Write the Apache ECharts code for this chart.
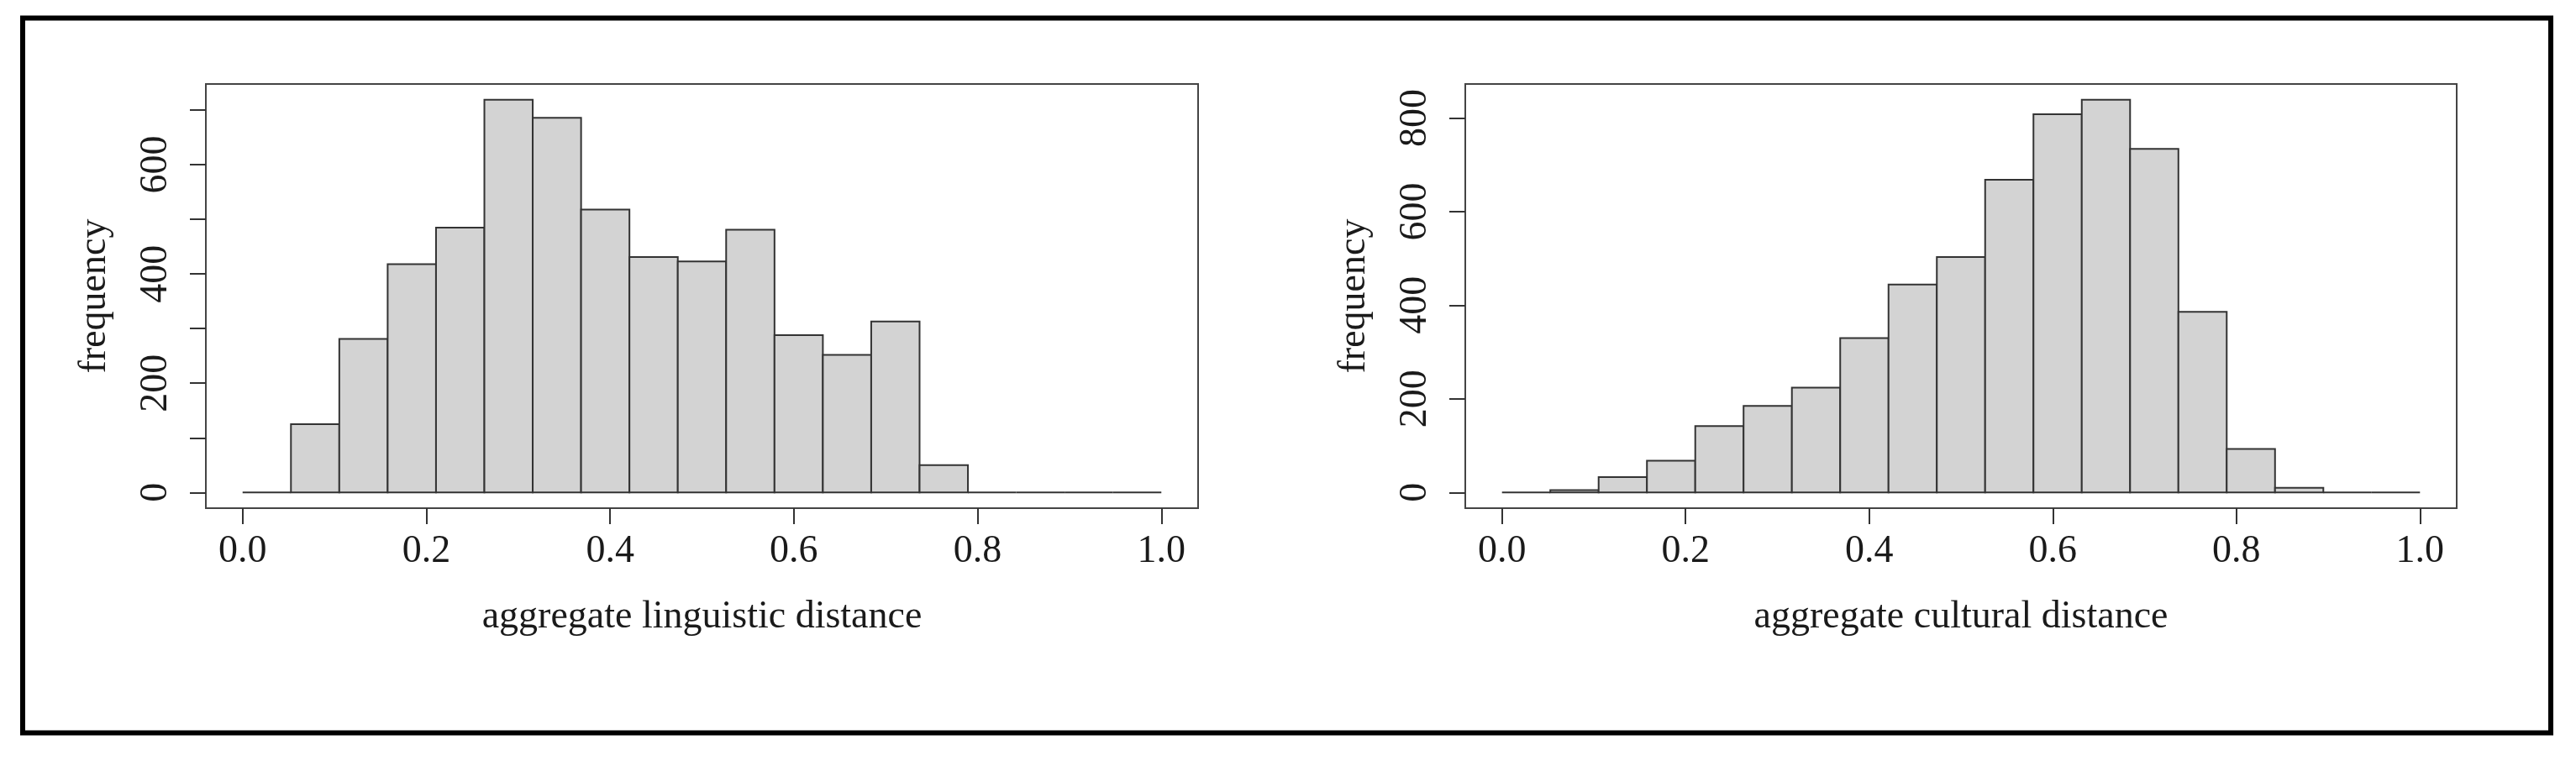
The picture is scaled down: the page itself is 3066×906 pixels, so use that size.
<!DOCTYPE html>
<html>
<head>
<meta charset="utf-8">
<title>aggregate distance histograms</title>
<script src="https://cdn.jsdelivr.net/npm/echarts@6/dist/echarts.min.js"></script>
<style>
  html, body { margin: 0; padding: 0; background: #fff; }
  #chart { width: 3066px; height: 906px; }
</style>
</head>
<body>
<div id="chart"></div>
<script>
// 19 equal bins over [0, 1]
var binCount = 19
var breaks = Array.from({ length: binCount + 1 }, function (_, k) { return k / binCount })

// bin counts
var linguisticCounts = [0, 125, 281, 418, 485, 719, 686, 518, 431, 423, 481, 288, 252, 313, 50, 0, 0, 0, 0]
var culturalCounts = [0, 5, 33, 68, 142, 185, 224, 330, 444, 503, 668, 808, 839, 734, 386, 93, 10, 0, 0]

// tick marks / labels
var xTicks = [0, 0.2, 0.4, 0.6, 0.8, 1.0]
var linguisticYTicks = [0, 100, 200, 300, 400, 500, 600, 700]
var linguisticYLabels = [0, 200, 400, 600]
var culturalYTicks = [0, 200, 400, 600, 800]
var culturalYLabels = [0, 200, 400, 600, 800]

var xTitles = ['aggregate linguistic distance', 'aggregate cultural distance']
var yTitle = 'frequency'

var FONT = "'Liberation Serif', 'Times New Roman', serif"
var INK = '#1a1a1a'

function binData (counts) {
  return counts.map(function (c, i) {
    return [breaks[i], breaks[i + 1], c]
  })
}

// R hist() style: one rectangle per bin, zero bins collapse to a line
function renderBin (params, api) {
  var p0 = api.coord([api.value(0), api.value(2)])
  var p1 = api.coord([api.value(1), 0])
  return {
    type: 'rect',
    shape: { x: p0[0], y: p0[1], width: p1[0] - p0[0], height: p1[1] - p0[1] },
    style: { fill: '#d3d3d3', stroke: '#333333', lineWidth: 2 }
  }
}

function xAxisOpt (idx) {
  return {
    type: 'value',
    gridIndex: idx,
    min: -0.04,
    max: 1.04,
    name: xTitles[idx],
    nameLocation: 'middle',
    nameGap: 107,
    nameTextStyle: { fontFamily: FONT, fontSize: 46, color: INK },
    axisLine: { show: false, onZero: false },
    axisTick: { show: true, length: 19, customValues: xTicks, lineStyle: { color: '#333', width: 2 } },
    axisLabel: {
      customValues: xTicks,
      margin: 29,
      fontFamily: FONT,
      fontSize: 46,
      color: INK,
      formatter: function (v) { return v.toFixed(1) }
    },
    splitLine: { show: false }
  }
}

function yAxisOpt (idx, counts, ticks, labels) {
  var top = Math.max.apply(null, counts)
  return {
    type: 'value',
    gridIndex: idx,
    min: -0.04 * top,
    max: 1.04 * top,
    name: yTitle,
    nameLocation: 'middle',
    nameRotate: 90,
    nameGap: 109,
    nameTextStyle: { fontFamily: FONT, fontSize: 46, color: INK },
    axisLine: { show: false, onZero: false },
    axisTick: { show: true, length: 19, customValues: ticks, lineStyle: { color: '#333', width: 2 } },
    axisLabel: {
      customValues: labels,
      rotate: 90,
      margin: 36,
      fontFamily: FONT,
      fontSize: 46,
      color: INK
    },
    splitLine: { show: false }
  }
}

var chart = echarts.init(document.getElementById('chart'), null, { renderer: 'canvas' })

var option = {
  backgroundColor: '#ffffff',
  animation: false,
  grid: [
    { left: 245, top: 100, width: 1181, height: 505, show: true, borderColor: '#444', borderWidth: 2, backgroundColor: 'transparent' },
    { left: 1744, top: 100, width: 1180, height: 505, show: true, borderColor: '#444', borderWidth: 2, backgroundColor: 'transparent' }
  ],
  xAxis: [xAxisOpt(0), xAxisOpt(1)],
  yAxis: [
    yAxisOpt(0, linguisticCounts, linguisticYTicks, linguisticYLabels),
    yAxisOpt(1, culturalCounts, culturalYTicks, culturalYLabels)
  ],
  series: [
    {
      type: 'custom',
      xAxisIndex: 0,
      yAxisIndex: 0,
      renderItem: renderBin,
      encode: { x: [0, 1], y: 2 },
      data: binData(linguisticCounts)
    },
    {
      type: 'custom',
      xAxisIndex: 1,
      yAxisIndex: 1,
      renderItem: renderBin,
      encode: { x: [0, 1], y: 2 },
      data: binData(culturalCounts)
    }
  ],
  // heavy black frame around the whole figure
  graphic: [
    {
      type: 'rect',
      silent: true,
      shape: { x: 27, y: 21.5, width: 3009, height: 851 },
      style: { fill: 'none', stroke: '#000', lineWidth: 6 }
    }
  ]
}

chart.setOption(option)
</script>
</body>
</html>
